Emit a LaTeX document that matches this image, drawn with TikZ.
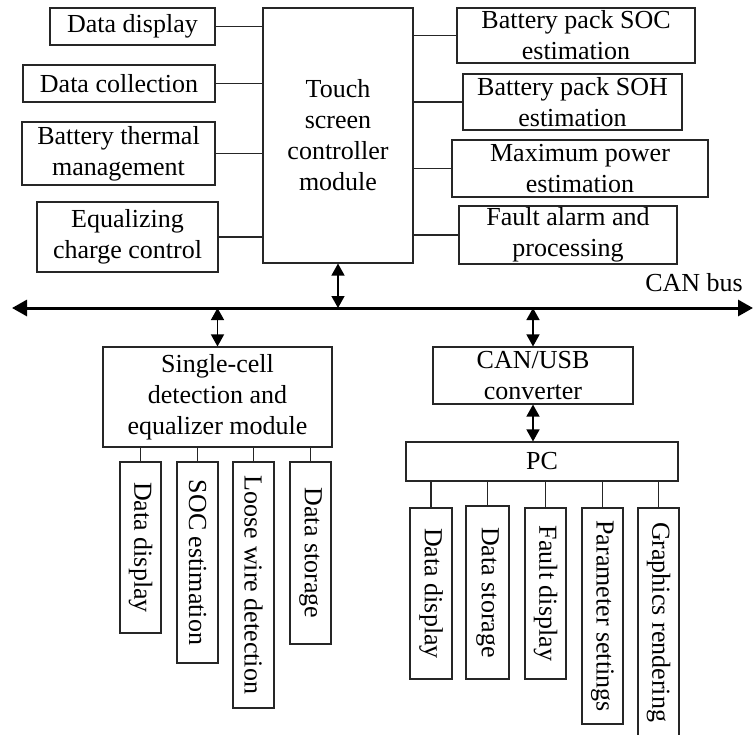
\documentclass[tikz,border=0pt]{standalone}
\usepackage{fontspec}
\setmainfont{Liberation Serif}
\usetikzlibrary{arrows.meta}
\begin{document}
\begin{tikzpicture}[x=1pt,y=-1pt,
  box/.style={draw=black!85, line width=1.1pt, inner sep=0pt, align=center,
    font=\fontsize{26}{31}\selectfont},
  link/.style={draw=black!85, line width=1.1pt},
  busline/.style={line width=3pt,
    {Triangle[length=15pt,width=16pt]}-{Triangle[length=15pt,width=16pt]}},
  dblarrow/.style={line width=1.4pt,
    {Triangle[length=12pt,width=13pt]}-{Triangle[length=12pt,width=13pt]}}]
\useasboundingbox (0,0) rectangle (754,734);
\clip (0,0) rectangle (754,734);

% top-left group
\node[box, minimum width=165pt, minimum height=37pt] (dd) at (132.5,26.5) {Data display};
\node[box, minimum width=192pt, minimum height=37pt] (dc) at (119,83.5) {Data collection};
\node[box, minimum width=193pt, minimum height=63pt] (btm) at (118.5,153.5) {Battery thermal\\management};
\node[box, minimum width=181pt, minimum height=70pt] (ecc) at (127.5,237) {Equalizing\\charge control};

% central controller
\node[box, minimum width=150pt, minimum height=255pt] (ts) at (338,135.5) {Touch\\screen\\controller\\module};

% top-right group
\node[box, minimum width=238pt, minimum height=55pt] (soc) at (576,35.5) {Battery pack SOC\\estimation};
\node[box, minimum width=219pt, minimum height=56pt] (soh) at (572.5,102) {Battery pack SOH\\estimation};
\node[box, minimum width=256pt, minimum height=57pt] (mp) at (580,168.5) {Maximum power\\estimation};
\node[box, minimum width=218pt, minimum height=58pt] (fa) at (568,235) {Fault alarm and\\processing};

\foreach \n in {dd,dc,btm,ecc}{\draw[link] (\n.east) -- (\n.east -| ts.west);}
\foreach \n in {soc,soh,mp,fa}{\draw[link] (\n.west) -- (\n.west -| ts.east);}

% CAN bus
\coordinate (busL) at (12,308);
\coordinate (busR) at (753,308);
\draw[busline] (busL) -- (busR);
\node[font=\fontsize{26}{31}\selectfont, inner sep=0pt] (canlbl) at (694,283) {CAN bus};
\draw[dblarrow] (ts.south) -- (ts.south |- busL);

% single-cell module
\node[box, minimum width=229pt, minimum height=100pt] (sc) at (217.5,397) {Single-cell\\detection and\\equalizer module};
\draw[dblarrow] (sc.north |- busL) -- (sc.north);

\node[box, minimum width=41pt, minimum height=171pt] (s1) at (140.5,547.5) {\rotatebox{-90}{Data display}};
\node[box, minimum width=41pt, minimum height=201pt] (s2) at (197.5,562.5) {\rotatebox{-90}{SOC estimation}};
\node[box, minimum width=41pt, minimum height=246pt] (s3) at (253.5,585) {\rotatebox{-90}{Loose wire detection}};
\node[box, minimum width=41pt, minimum height=182pt] (s4) at (310.5,553) {\rotatebox{-90}{Data storage}};
\foreach \n in {s1,s2,s3,s4}{\draw[link] (\n.north) -- (\n.north |- sc.south);}

% CAN/USB and PC
\node[box, minimum width=200pt, minimum height=57pt] (cu) at (533,375.5) {CAN/USB\\converter};
\draw[dblarrow] (cu.north |- busL) -- (cu.north);
\node[box, minimum width=272pt, minimum height=39pt] (pc) at (542,461.5) {PC};
\draw[dblarrow] (cu.south) -- (cu.south |- pc.north);

\node[box, minimum width=42pt, minimum height=171pt] (p1) at (431,593.5) {\rotatebox{-90}{Data display}};
\node[box, minimum width=43pt, minimum height=173pt] (p2) at (487.5,592.5) {\rotatebox{-90}{Data storage}};
\node[box, minimum width=41pt, minimum height=171pt] (p3) at (545.5,593.5) {\rotatebox{-90}{Fault display}};
\node[box, minimum width=41pt, minimum height=216pt] (p4) at (602.5,616) {\rotatebox{-90}{Parameter settings}};
\node[box, minimum width=41pt, minimum height=228pt] (p5) at (658.5,622) {\rotatebox{-90}{Graphics rendering}};
\foreach \n in {p1,p2,p3,p4,p5}{\draw[link] (\n.north) -- (\n.north |- pc.south);}
\end{tikzpicture}
\end{document}
